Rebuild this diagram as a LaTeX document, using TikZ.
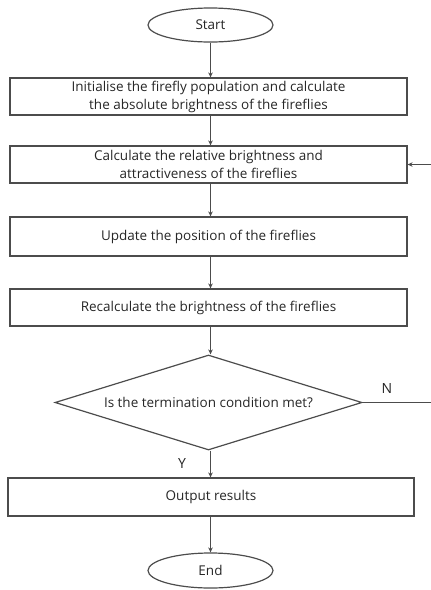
\documentclass[tikz,border=0pt]{standalone}
\usepackage{fontspec}
\setmainfont{Open Sans}
\usetikzlibrary{shapes.geometric,arrows.meta}
\begin{document}
\begin{tikzpicture}[x=1pt,y=-1pt,
  every node/.style={font=\fontsize{13.5pt}{18pt}\selectfont, text=black!85},
  term/.style={ellipse, draw=black!70, line width=1.2pt, minimum width=125pt, minimum height=34pt, inner sep=0pt},
  proc/.style={rectangle, draw=black!70, line width=1.2pt, minimum width=397pt, minimum height=37pt, inner sep=0pt, align=center},
  deci/.style={diamond, draw=black!70, line width=1.2pt, minimum width=307pt, minimum height=95pt, aspect=3.23, inner sep=0pt},
  arr/.style={draw=black!70, line width=1.2pt, -{Stealth[length=5pt,width=4.5pt]}},
  lbl/.style={font=\fontsize{14pt}{16pt}\selectfont}]
\useasboundingbox (0,0) rectangle (431,590);
\clip (0,0) rectangle (431,590);
\node[term] (start) at (210.5,25) {Start};
\node[proc] (b1) at (208.5,96.5) {Initialise the firefly population and calculate\\the absolute brightness of the fireflies};
\node[proc] (b2) at (208.5,164.5) {Calculate the relative brightness and\\attractiveness of the fireflies};
\node[proc, minimum height=39pt] (b3) at (208.5,236.5) {Update the position of the fireflies};
\node[proc] (b4) at (208.5,307.5) {Recalculate the brightness of the fireflies};
\node[deci] (dia) at (208.5,402.5) {Is the termination condition met?};
\node[proc, minimum width=406pt, minimum height=38pt] (out) at (211,497) {Output results};
\node[term, minimum height=35pt] (end) at (210.5,570.5) {End};
\node[lbl] (nl) at (387,388) {N};
\node[lbl] (yl) at (182,463) {Y};
\coordinate (r) at (438,164.5);
\draw[arr] (start.south) -- (start.south |- b1.north);
\draw[arr] (start.south |- b1.south) -- (start.south |- b2.north);
\draw[arr] (start.south |- b2.south) -- (start.south |- b3.north);
\draw[arr] (start.south |- b3.south) -- (start.south |- b4.north);
\draw[arr] (start.south |- b4.south) -- (start.south |- dia.north);
\draw[arr] (start.south |- dia.south) -- (start.south |- out.north);
\draw[arr] (start.south |- out.south) -- (end.north);
\draw[arr] (dia.east) -| (r) -- (b2.east);
\end{tikzpicture}
\end{document}
